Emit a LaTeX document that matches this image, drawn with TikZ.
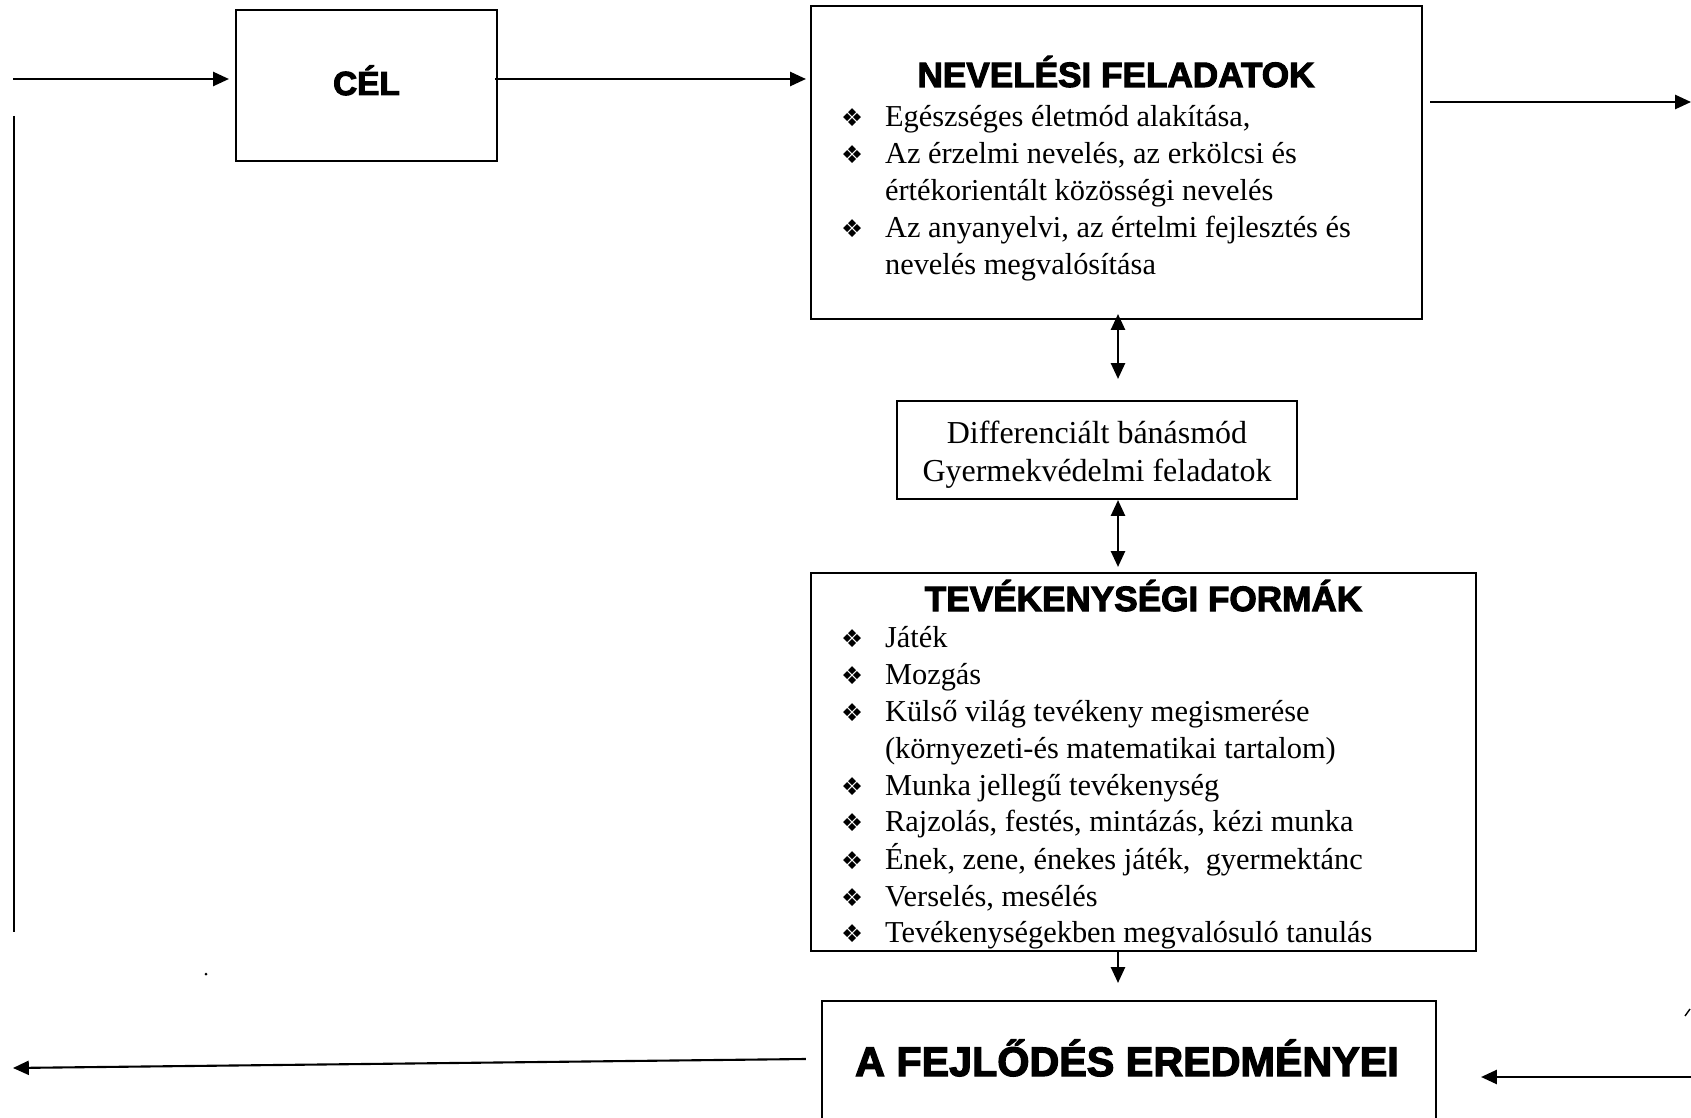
\documentclass[tikz,border=0pt]{standalone}
\usepackage{fontspec}
\setmainfont{Liberation Serif}
\newfontfamily\headfont{Liberation Sans}[BoldFeatures={FakeBold=3}]
\newfontfamily\bulfont{DejaVu Sans}
\usetikzlibrary{arrows.meta}
\newlength\pxu \setlength\pxu{0.02cm}
\newcommand\bul{\makebox[44\pxu][l]{\bulfont\fontsize{14}{14}\selectfont ❖}}
\newcommand\cont{\hspace*{44\pxu}}

\begin{document}
\begin{tikzpicture}[x=0.02cm,y=-0.02cm,->,>={Triangle[length=9pt,width=8pt]},line width=1.2pt,
                    box node/.style={draw,rectangle,inner sep=0pt},
                    head node/.style={anchor=base,inner sep=0pt,font=\headfont\bfseries\fontsize{#1}{#1}\selectfont},
                    head node/.default=20,
                    list node/.style={anchor=base west,inner sep=0pt,font=\fontsize{17.3}{21}\selectfont}]

  \useasboundingbox (0,0) rectangle (1691,1118);

  % boxes
  \node[box node,minimum width=261\pxu,minimum height=151\pxu] (cel) at (366.5,85.5) {};
  \node[box node,minimum width=611\pxu,minimum height=313\pxu] (nev) at (1116.5,162.5) {};
  \node[box node,minimum width=400\pxu,minimum height=98\pxu] (diff) at (1097,450) {};
  \node[box node,minimum width=665\pxu,minimum height=378\pxu] (tev) at (1143.5,762) {};
  \node[box node,minimum width=614\pxu,minimum height=122\pxu] (fej) at (1129,1062) {};

  % titles
  \node[head node=19] (celtitle) at (366.5,95) {CÉL};
  \node[head node] (nevtitle) at (1116,87) {NEVELÉSI FELADATOK};
  \node[head node] (tevtitle) at (1143.5,611) {TEVÉKENYSÉGI FORMÁK};
  \node[head node=23.5] (fejtitle) at (1127,1076) {A FEJLŐDÉS EREDMÉNYEI};

  % texts
  \node[align=center,inner sep=0pt,font=\fontsize{18.2}{21.5}\selectfont] (difftext) at (1097,455)
        {Differenciált bánásmód\\Gyermekvédelmi feladatok};
  \node[list node] (nevlist) at (840,127) {\begin{tabular}[t]{@{}l@{}}
      \bul Egészséges életmód alakítása,\\
      \bul Az érzelmi nevelés, az erkölcsi és\\
      \cont értékorientált közösségi nevelés\\
      \bul Az anyanyelvi, az értelmi fejlesztés és\\
      \cont nevelés megvalósítása
    \end{tabular}};
  \node[list node] (tevlist) at (840,647.5) {\begin{tabular}[t]{@{}l@{}}
      \bul Játék\\
      \bul Mozgás\\
      \bul Külső világ tevékeny megismerése\\
      \cont (környezeti-és matematikai tartalom)\\
      \bul Munka jellegű tevékenység\\
      \bul Rajzolás, festés, mintázás, kézi munka\\
      \bul Ének, zene, énekes játék,\ \ gyermektánc\\
      \bul Verselés, mesélés\\
      \bul Tevékenységekben megvalósuló tanulás
    \end{tabular}};

  % free ends
  \coordinate (inl) at (13,79);
  \coordinate (outr) at (1691,102);
  \coordinate (outl) at (13,1068);
  \coordinate (inr) at (1691,1077);
  \coordinate (mid) at (1118,0);
  \coordinate (celout) at ([shift={(-3,-6.5)}]cel.east);
  \coordinate (nevout) at ([shift={(7,-60.5)}]nev.east);
  \coordinate (fbtop) at (14,116);
  \coordinate (fbbot) at (14,932);

  \path
    (inl) edge ([shift={(-6,-6.5)}]cel.west)
    (celout) edge [shorten >=4\pxu] (celout -| nev.west)
    (nevout) edge (outr)

    (mid |- nev.south) edge [<->,shorten <=-6\pxu,shorten >=21\pxu] (mid |- diff.north)
    (mid |- diff.south) edge [<->,shorten >=5\pxu] (mid |- tev.north)
    (mid |- tev.south) edge [shorten >=17\pxu] (mid |- fej.north)

    ([shift={(-15,-3)}]fej.west) edge (outl)
    (inr) edge ([shift={(44,15)}]fej.east)
;
  \draw[-] (fbtop) -- (fbbot);

  \fill (206,974) circle (1.5\pxu);
  \draw[-,line width=0.8pt] (1685,1016) -- (1690,1009);
\end{tikzpicture}
\end{document}
